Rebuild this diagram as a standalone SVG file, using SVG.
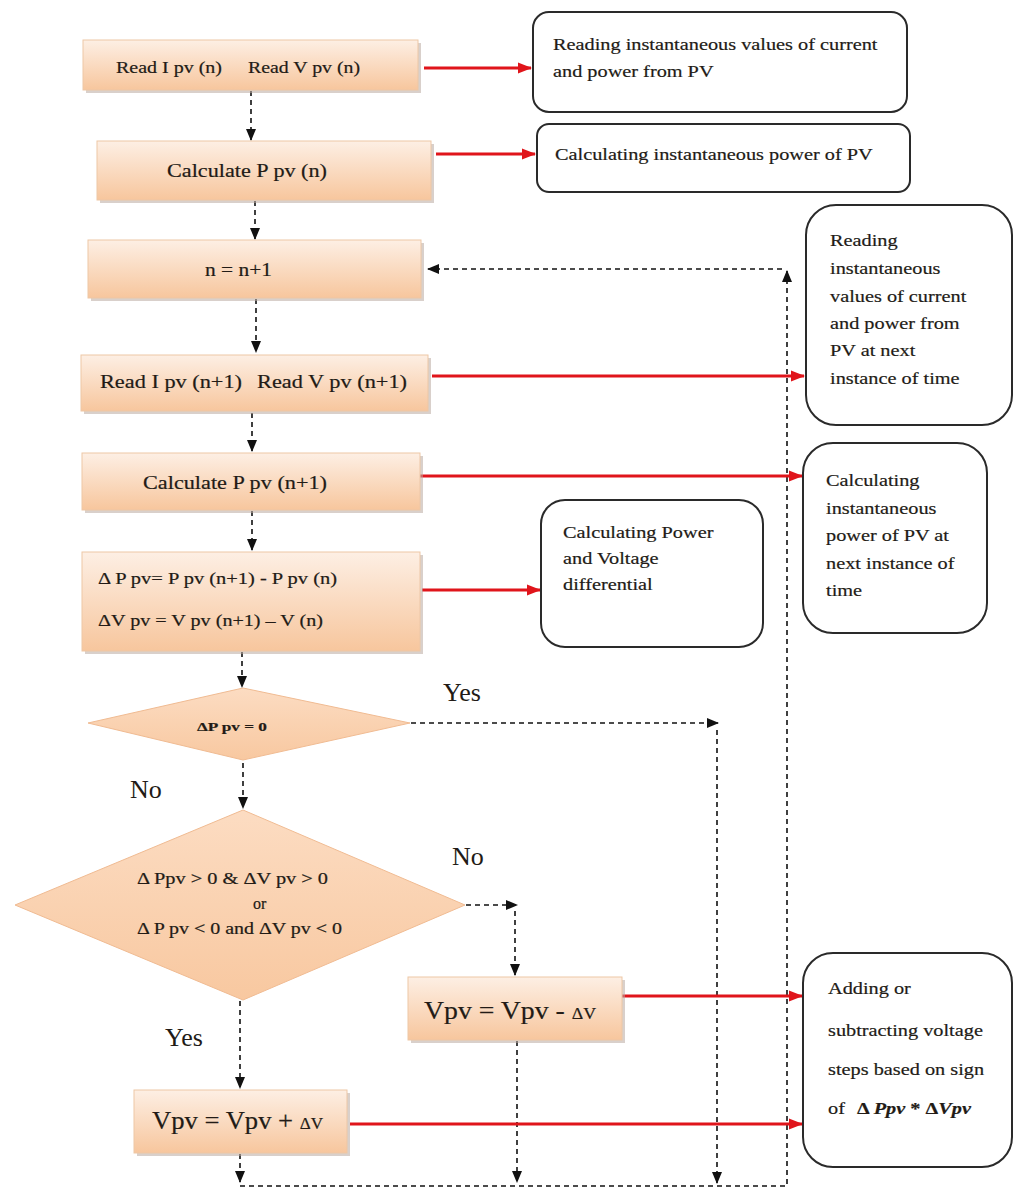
<svg xmlns="http://www.w3.org/2000/svg" width="1013" height="1188" viewBox="0 0 1013 1188">
<defs>
<linearGradient id="peach" x1="0" y1="0" x2="0" y2="1">
<stop offset="0" stop-color="#fdefe4"/>
<stop offset="1" stop-color="#f7c69d"/>
</linearGradient>
<linearGradient id="dpeach" x1="0" y1="0" x2="0" y2="1">
<stop offset="0" stop-color="#fcdcc2"/>
<stop offset="1" stop-color="#f8c8a0"/>
</linearGradient>
<marker id="ab" markerUnits="userSpaceOnUse" markerWidth="12" markerHeight="12" viewBox="0 0 12 12" refX="11" refY="6" orient="auto">
<path d="M0,1 L12,6 L0,11 Z" fill="#111"/>
</marker>
<marker id="ar" markerUnits="userSpaceOnUse" markerWidth="14" markerHeight="14" viewBox="0 0 14 14" refX="13" refY="7" orient="auto">
<path d="M0,1.5 L14,7 L0,12.5 Z" fill="#e0151b"/>
</marker>
</defs>
<style>
.box{fill:url(#peach);stroke:#edc7a6;stroke-width:1}
.shadow{fill:#b9aaa0;opacity:0.55}
.dia{fill:url(#dpeach);stroke:#f0bb92;stroke-width:1}
.side{fill:#ffffff;stroke:#2a2a2a;stroke-width:2}
.t{font-family:"Liberation Serif","Times New Roman",serif;fill:#221b16;stroke:#221b16;stroke-width:0.2}
.st{font-size:17.5px}
.lbl{font-size:26px;stroke-width:0}
.dash{fill:none;stroke:#111;stroke-width:1.6;stroke-dasharray:5 4}
.red{fill:none;stroke:#e0151b;stroke-width:3}
</style>
<rect width="1013" height="1188" fill="#ffffff"/>

<g id="connectors">
<path class="dash" d="M251,91 V140" marker-end="url(#ab)"/>
<path class="dash" d="M255,201 V239" marker-end="url(#ab)"/>
<path class="dash" d="M256,299 V352" marker-end="url(#ab)"/>
<path class="dash" d="M252,413 V451" marker-end="url(#ab)"/>
<path class="dash" d="M252,511 V550" marker-end="url(#ab)"/>
<path class="dash" d="M242,652 V687" marker-end="url(#ab)"/>
<path class="dash" d="M411,723 H718" marker-end="url(#ab)"/>
<path class="dash" d="M717,730 V1183" marker-end="url(#ab)"/>
<path class="dash" d="M243,763 V808" marker-end="url(#ab)"/>
<path class="dash" d="M466,905 H517" marker-end="url(#ab)"/>
<path class="dash" d="M515,911 V975" marker-end="url(#ab)"/>
<path class="dash" d="M240,1001 V1088" marker-end="url(#ab)"/>
<path class="dash" d="M240,1154 V1182" marker-end="url(#ab)"/>
<path class="dash" d="M517,1041 V1182" marker-end="url(#ab)"/>
<path class="dash" d="M240,1186 H787 V271" marker-end="url(#ab)"/>
<path class="dash" d="M782,269 H428" marker-end="url(#ab)"/>
<path class="red" d="M424,68 H531" marker-end="url(#ar)"/>
<path class="red" d="M436,154 H535" marker-end="url(#ar)"/>
<path class="red" d="M432,376 H804" marker-end="url(#ar)"/>
<path class="red" d="M420,476 H802" marker-end="url(#ar)"/>
<path class="red" d="M422,590 H540" marker-end="url(#ar)"/>
<path class="red" d="M622,996 H802" marker-end="url(#ar)"/>
<path class="red" d="M350,1124 H802" marker-end="url(#ar)"/>
</g>

<g id="n1">
<rect class="shadow" x="86" y="43" width="335" height="50"/>
<rect class="box" x="83" y="40" width="335" height="50"/>
<text class="t" x="116" y="73" font-size="17" textLength="106" lengthAdjust="spacingAndGlyphs">Read I pv (n)</text>
<text class="t" x="248" y="73" font-size="17" textLength="112" lengthAdjust="spacingAndGlyphs">Read V pv (n)</text>
</g>
<g id="s1">
<rect class="side" x="533" y="12" width="374" height="100" rx="16"/>
<g transform="translate(553,0) scale(1.16,1)">
<text class="t st" x="0" y="50">Reading instantaneous values of current</text>
<text class="t st" x="0" y="77">and power from PV</text>
</g>
</g>

<g id="n2">
<rect class="shadow" x="100" y="144" width="334" height="59"/>
<rect class="box" x="97" y="141" width="334" height="59"/>
<text class="t" x="167" y="177" font-size="19" textLength="160" lengthAdjust="spacingAndGlyphs">Calculate P pv (n)</text>
</g>
<g id="s2">
<rect class="side" x="537" y="124" width="373" height="68" rx="12"/>
<g transform="translate(555,0) scale(1.16,1)">
<text class="t st" x="0" y="160">Calculating instantaneous power of PV</text>
</g>
</g>

<g id="n3">
<rect class="shadow" x="91" y="243" width="333" height="58"/>
<rect class="box" x="88" y="240" width="333" height="58"/>
<text class="t" x="205" y="276" font-size="19" textLength="67" lengthAdjust="spacingAndGlyphs">n = n+1</text>
</g>

<g id="n4">
<rect class="shadow" x="84" y="358" width="347" height="56"/>
<rect class="box" x="81" y="355" width="347" height="56"/>
<text class="t" x="100" y="388" font-size="19" textLength="142" lengthAdjust="spacingAndGlyphs">Read I pv (n+1)</text>
<text class="t" x="257" y="388" font-size="19" textLength="150" lengthAdjust="spacingAndGlyphs">Read V pv (n+1)</text>
</g>
<g id="s4">
<rect class="side" x="806" y="205" width="206" height="220" rx="30"/>
<g transform="translate(830,0) scale(1.16,1)">
<text class="t st" x="0" y="246">Reading</text>
<text class="t st" x="0" y="274">instantaneous</text>
<text class="t st" x="0" y="302">values of current</text>
<text class="t st" x="0" y="329">and power from</text>
<text class="t st" x="0" y="356">PV at next</text>
<text class="t st" x="0" y="384">instance of time</text>
</g>
</g>

<g id="n5">
<rect class="shadow" x="85" y="456" width="338" height="57"/>
<rect class="box" x="82" y="453" width="338" height="57"/>
<text class="t" x="143" y="489" font-size="19" textLength="184" lengthAdjust="spacingAndGlyphs">Calculate P pv (n+1)</text>
</g>
<g id="s5">
<rect class="side" x="803" y="443" width="184" height="190" rx="30"/>
<g transform="translate(826,0) scale(1.16,1)">
<text class="t st" x="0" y="486">Calculating</text>
<text class="t st" x="0" y="514">instantaneous</text>
<text class="t st" x="0" y="541">power of PV at</text>
<text class="t st" x="0" y="569">next instance of</text>
<text class="t st" x="0" y="596">time</text>
</g>
</g>

<g id="n6">
<rect class="shadow" x="85" y="555" width="338" height="99"/>
<rect class="box" x="82" y="552" width="338" height="99"/>
<text class="t" x="98" y="584" font-size="17" textLength="239" lengthAdjust="spacingAndGlyphs">Δ P pv= P pv (n+1) - P pv (n)</text>
<text class="t" x="98" y="626" font-size="17" textLength="225" lengthAdjust="spacingAndGlyphs">ΔV pv = V pv (n+1) – V (n)</text>
</g>
<g id="s6">
<rect class="side" x="541" y="500" width="222" height="147" rx="24"/>
<g transform="translate(563,0) scale(1.16,1)">
<text class="t st" x="0" y="538">Calculating Power</text>
<text class="t st" x="0" y="564">and Voltage</text>
<text class="t st" x="0" y="590">differential</text>
</g>
</g>

<g id="d1">
<polygon class="dia" points="243,688 410,723 243,760 88,723"/>
<text class="t" x="197" y="731" font-size="13" font-weight="bold" textLength="70" lengthAdjust="spacingAndGlyphs">ΔP pv = 0</text>
</g>
<text class="t lbl" x="443" y="701">Yes</text>
<text class="t lbl" x="130" y="798">No</text>

<g id="d2">
<polygon class="dia" points="243,810 465,905 243,1000 15,905"/>
<text class="t" x="137" y="884" font-size="16" textLength="191" lengthAdjust="spacingAndGlyphs">Δ Ppv &gt; 0 &amp; ΔV pv  &gt; 0</text>
<text class="t" x="253" y="909" font-size="16">or</text>
<text class="t" x="137" y="934" font-size="16" textLength="205" lengthAdjust="spacingAndGlyphs">Δ P pv &lt; 0 and ΔV pv &lt; 0</text>
</g>
<text class="t lbl" x="452" y="865">No</text>

<g id="n7">
<rect class="shadow" x="411" y="980" width="214" height="63"/>
<rect class="box" x="408" y="977" width="214" height="63"/>
<text class="t" x="424" y="1019" font-size="25" textLength="172" lengthAdjust="spacingAndGlyphs">Vpv = Vpv - <tspan font-size="16">ΔV</tspan></text>
</g>
<g id="s7">
<rect class="side" x="803" y="953" width="209" height="214" rx="30"/>
<g transform="translate(828,0) scale(1.16,1)">
<text class="t st" x="0" y="994">Adding or</text>
<text class="t st" x="0" y="1036">subtracting voltage</text>
<text class="t st" x="0" y="1075">steps based on sign</text>
<text class="t st" x="0" y="1114">of<tspan x="25" font-weight="bold">Δ <tspan font-style="italic">Ppv</tspan> * Δ<tspan font-style="italic">Vpv</tspan></tspan></text>
</g>
</g>
<text class="t lbl" x="165" y="1046">Yes</text>

<g id="n8">
<rect class="shadow" x="137" y="1093" width="213" height="63"/>
<rect class="box" x="134" y="1090" width="213" height="63"/>
<text class="t" x="152" y="1129" font-size="25" textLength="171" lengthAdjust="spacingAndGlyphs">Vpv = Vpv + <tspan font-size="16">ΔV</tspan></text>
</g>
</svg>
